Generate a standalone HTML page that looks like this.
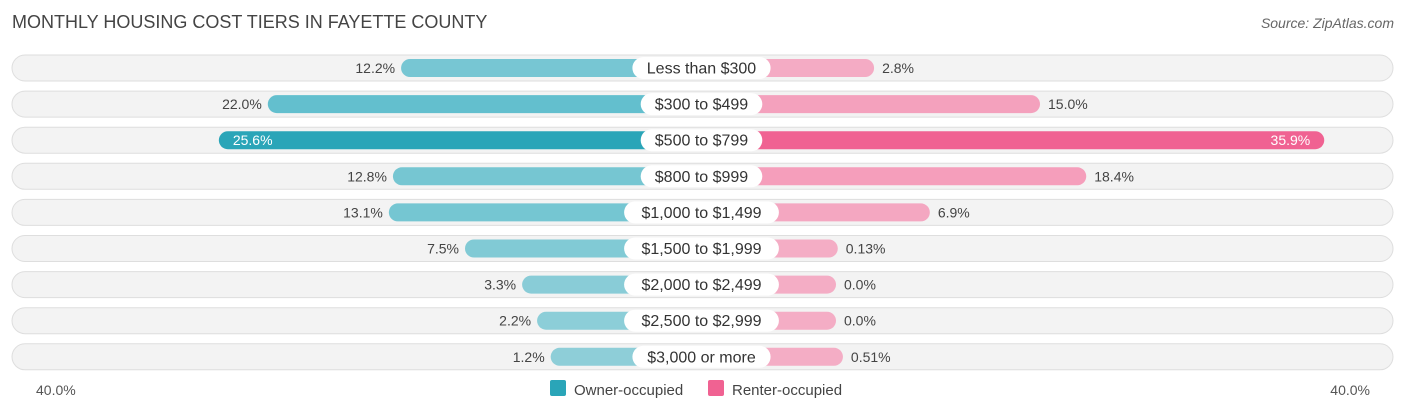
<!DOCTYPE html>
<html><head><meta charset="utf-8"><style>
body{margin:0;background:#fff;font-family:"Liberation Sans",sans-serif;}
svg{display:block}
</style></head><body>
<svg id="c" width="1406" height="414">
<text x="12" y="28" font-size="18" fill="#444">MONTHLY HOUSING COST TIERS IN FAYETTE COUNTY</text>
<text x="1394" y="28" font-size="14" fill="#666" font-style="italic" text-anchor="end">Source: ZipAtlas.com</text>
<g id="rows"></g>
<text x="36" y="395" font-size="14" fill="#555">40.0%</text>
<text x="1370" y="395" font-size="14" fill="#555" text-anchor="end">40.0%</text>
<g>
<rect x="550" y="380" width="16" height="16" rx="2" fill="#2aa5b8"/>
<text x="574" y="395" font-size="15" fill="#444">Owner-occupied</text>
<rect x="708" y="380" width="16" height="16" rx="2" fill="#f06292"/>
<text x="732" y="395" font-size="15" fill="#444">Renter-occupied</text>
</g>
</svg>
<script>
const categories=["Less than $300","$300 to $499","$500 to $799","$800 to $999","$1,000 to $1,499","$1,500 to $1,999","$2,000 to $2,499","$2,500 to $2,999","$3,000 or more"];
const ownerValues=[12.2,22.0,25.6,12.8,13.1,7.5,3.3,2.2,1.2];
const renterValues=[2.8,15.0,35.9,18.4,6.9,0.13,0.0,0.0,0.51];
const ownerLabels=["12.2%","22.0%","25.6%","12.8%","13.1%","7.5%","3.3%","2.2%","1.2%"];
const renterLabels=["2.8%","15.0%","35.9%","18.4%","6.9%","0.13%","0.0%","0.0%","0.51%"];
const NS="http://www.w3.org/2000/svg";
const g=document.getElementById('rows');
const ppu=13.6, leftBase=567, rightBase=836;
const xL=v=>leftBase-v*ppu, xR=v=>rightBase+v*ppu;
const rowY=i=>68+i*36.1;
const maxO=Math.max(...ownerValues), maxR=Math.max(...renterValues);
function mk(t,a,txt){const e=document.createElementNS(NS,t);for(const k in a)e.setAttribute(k,a[k]);if(txt!=null)e.textContent=txt;g.appendChild(e);return e;}
categories.forEach((c,i)=>{
  const y=rowY(i);
  let e=mk('rect',{x:12,y:y-13,width:1381,height:26,rx:13,fill:'#f3f3f3',stroke:'#dedede'});
  
  
  const ov=ownerValues[i], rv=renterValues[i];
  const oStrong=ov===maxO, rStrong=rv===maxR;
  const ox=xL(ov);
  e=mk('rect',{x:ox,y:y-9,width:701-ox,height:18,rx:9,fill:oStrong?'#2aa5b8':'#5bbccb','fill-opacity':oStrong?1:(0.65+0.35*ov/maxO)});
  
  
  const rx=xR(rv);
  e=mk('rect',{x:701,y:y-9,width:rx-701,height:18,rx:9,fill:rStrong?'#f06292':'#f48fb1','fill-opacity':rStrong?1:(0.7+0.3*rv/maxR)});
  
  
  if(oStrong){e=mk('text',{x:ox+14,y:y+5,'font-size':14,fill:'#fff'},ownerLabels[i]);}
  else{e=mk('text',{x:ox-6,y:y+5,'font-size':14,fill:'#444','text-anchor':'end'},ownerLabels[i]);}
  
  
  if(rStrong){e=mk('text',{x:rx-14,y:y+5,'font-size':14,fill:'#fff','text-anchor':'end'},renterLabels[i]);}
  else{e=mk('text',{x:rx+8,y:y+5,'font-size':14,fill:'#444'},renterLabels[i]);}
  
  
  const w=c.length*8.3+22;
  e=mk('rect',{x:701.5-w/2,y:y-11,width:w,height:22,rx:11,fill:'#fff'});
  
  
  e=mk('text',{x:701.5,y:y+5.5,'font-size':16,fill:'#333','text-anchor':'middle'},c);
  
  
});
</script>
</body></html>
